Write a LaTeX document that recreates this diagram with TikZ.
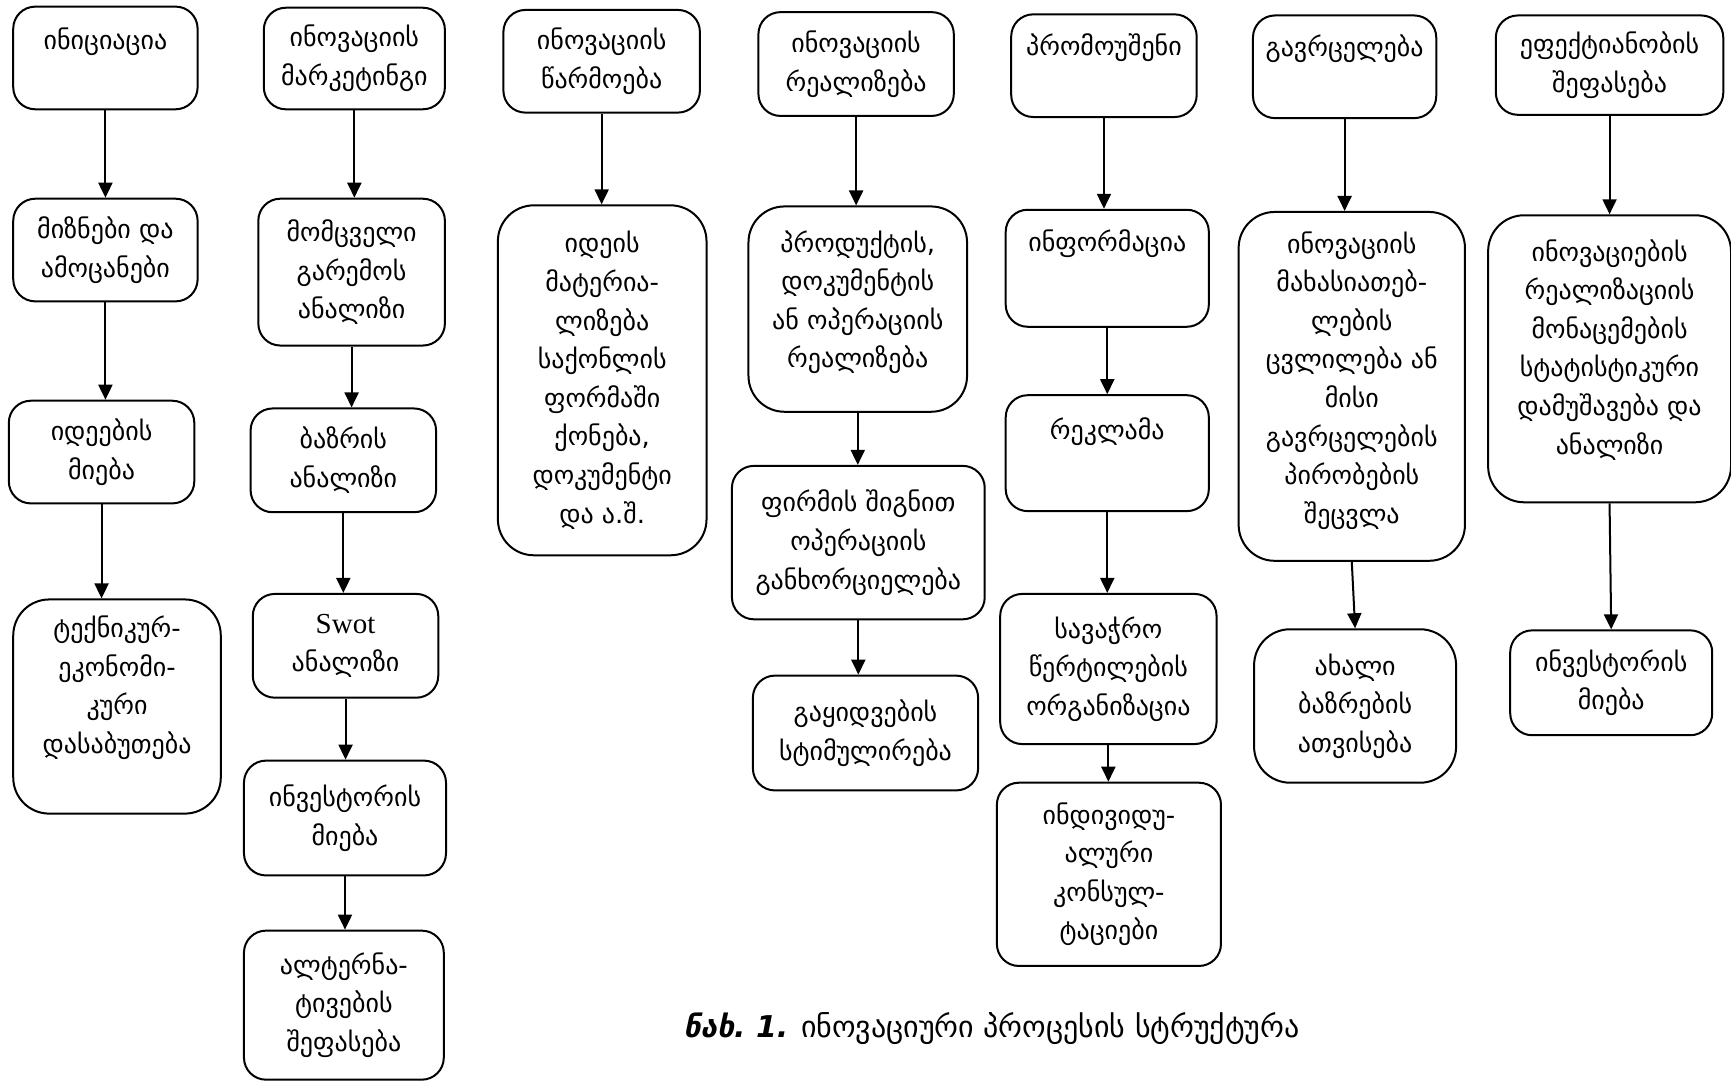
\documentclass[tikz,border=0pt]{standalone}
\usepackage{fontspec}
\setmainfont{DejaVu Sans}
\newfontfamily\latserif{Liberation Serif}
\usetikzlibrary{arrows.meta}
\newcommand\gbox[7]{%
  \pgfmathsetmacro\gbw{(#4-#2)*0.552}%
  \pgfmathsetmacro\gbh{(#5-#3)*0.552}%
  \node[box,minimum width=\gbw pt,minimum height=\gbh pt,#6] (#1) at ({(#2+#4)/2},{(#3+#5)/2}) {#7};}
\begin{document}
\begin{tikzpicture}[x=0.552pt,y=-0.552pt,
  box/.style={draw,line width=1pt,rounded corners=11pt,align=center,inner sep=0.5pt,
    font=\fontsize{13}{19.3}\selectfont},
  bigr/.style={rounded corners=18pt},
  tdep/.style={text depth=#1},
  arr/.style={line width=1pt,-{Triangle[length=7.5pt,width=7pt]}}]
\useasboundingbox (0,0) rectangle (1568,979);
% column 1
\gbox{A1}{12}{6}{179}{99}{tdep=19pt}{ინიციაცია}
\gbox{A2}{12}{180}{179}{273}{}{მიზნები და\\ამოცანები}
\gbox{A3}{8}{363}{176}{456}{}{იდეების\\მიება}
\gbox{A4}{12}{543}{200}{737}{bigr,tdep=22pt}{ტექნიკურ-\\ეკონომი-\\კური\\დასაბუთება}
% column 2
\gbox{B1}{239}{7}{403}{99}{}{ინოვაციის\\მარკეტინგი}
\gbox{B2}{234}{180}{403}{313}{}{მომცველი\\გარემოს\\ანალიზი}
\gbox{B3}{227}{370}{395}{464}{}{ბაზრის\\ანალიზი}
\gbox{B4}{229}{538}{397}{632}{}{{\latserif\fontsize{14.5}{19.3}\selectfont Swot}\\ანალიზი}
\gbox{B5}{221}{689}{404}{793}{}{ინვესტორის\\მიება}
\gbox{B6}{221}{843}{402}{978}{}{ალტერნა-\\ტივების\\შეფასება}
% column 3
\gbox{C1}{456}{9}{634}{102}{}{ინოვაციის\\წარმოება}
\gbox{C2}{451}{186}{640}{503}{bigr}{იდეის\\მატერია-\\ლიზება\\საქონლის\\ფორმაში\\ქონება,\\დოკუმენტი\\და ა.შ.}
% column 4
\gbox{D1}{687}{11}{864}{105}{}{ინოვაციის\\რეალიზება}
\gbox{D2}{678}{187}{876}{373}{bigr,tdep=10pt}{პროდუქტის,\\დოკუმენტის\\ან ოპერაციის\\რეალიზება}
\gbox{D3}{663}{422}{892}{561}{}{ფირმის შიგნით\\ოპერაციის\\განხორციელება}
\gbox{D4}{682}{612}{886}{716}{}{გაყიდვების\\სტიმულირება}
% column 5
\gbox{E1}{916}{13}{1084}{106}{tdep=21pt}{პრომოუშენი}
\gbox{E2}{911}{190}{1095}{296}{tdep=28pt}{ინფორმაცია}
\gbox{E3}{911}{358}{1095}{463}{tdep=25pt}{რეკლამა}
\gbox{E4}{906}{538}{1102}{674}{}{სავაჭრო\\წერტილების\\ორგანიზაცია}
\gbox{E5}{903}{709}{1106}{875}{}{ინდივიდუ-\\ალური\\კონსულ-\\ტაციები}
% column 6
\gbox{F1}{1135}{14}{1301}{107}{tdep=21pt}{გავრცელება}
\gbox{F2}{1122}{192}{1327}{508}{bigr,tdep=9pt}{ინოვაციის\\მახასიათებ-\\ლების\\ცვლილება ან\\მისი\\გავრცელების\\პირობების\\შეცვლა}
\gbox{F3}{1136}{570}{1319}{709}{bigr}{ახალი\\ბაზრების\\ათვისება}
% column 7
\gbox{G1}{1355}{14}{1561}{104}{}{ეფექტიანობის\\შეფასება}
\gbox{G2}{1348}{195}{1568}{455}{bigr,tdep=12pt}{ინოვაციების\\რეალიზაციის\\მონაცემების\\სტატისტიკური\\დამუშავება და\\ანალიზი}
\gbox{G3}{1368}{571}{1551}{666}{}{ინვესტორის\\მიება}
% caption
\node[font=\fontsize{15}{18}\selectfont,anchor=west] (cap) at (613,932)
  {{\bfseries\itshape ნახ.~1.} ინოვაციური პროცესის სტრუქტურა};
% arrows
\foreach \s/\t in {A1/A2,A2/A3,A3/A4,B1/B2,B2/B3,B3/B4,B4/B5,B5/B6,C1/C2,D1/D2,D2/D3,D3/D4,E1/E2,E2/E3,E3/E4,E4/E5,F1/F2,G1/G2}
  \draw[arr] (\s.south) -- (\s.south |- \t.north);
\draw[arr] (F2.south) -- (F3.north);
\draw[arr] (G2.south) -- (G3.north);
\end{tikzpicture}
\end{document}
